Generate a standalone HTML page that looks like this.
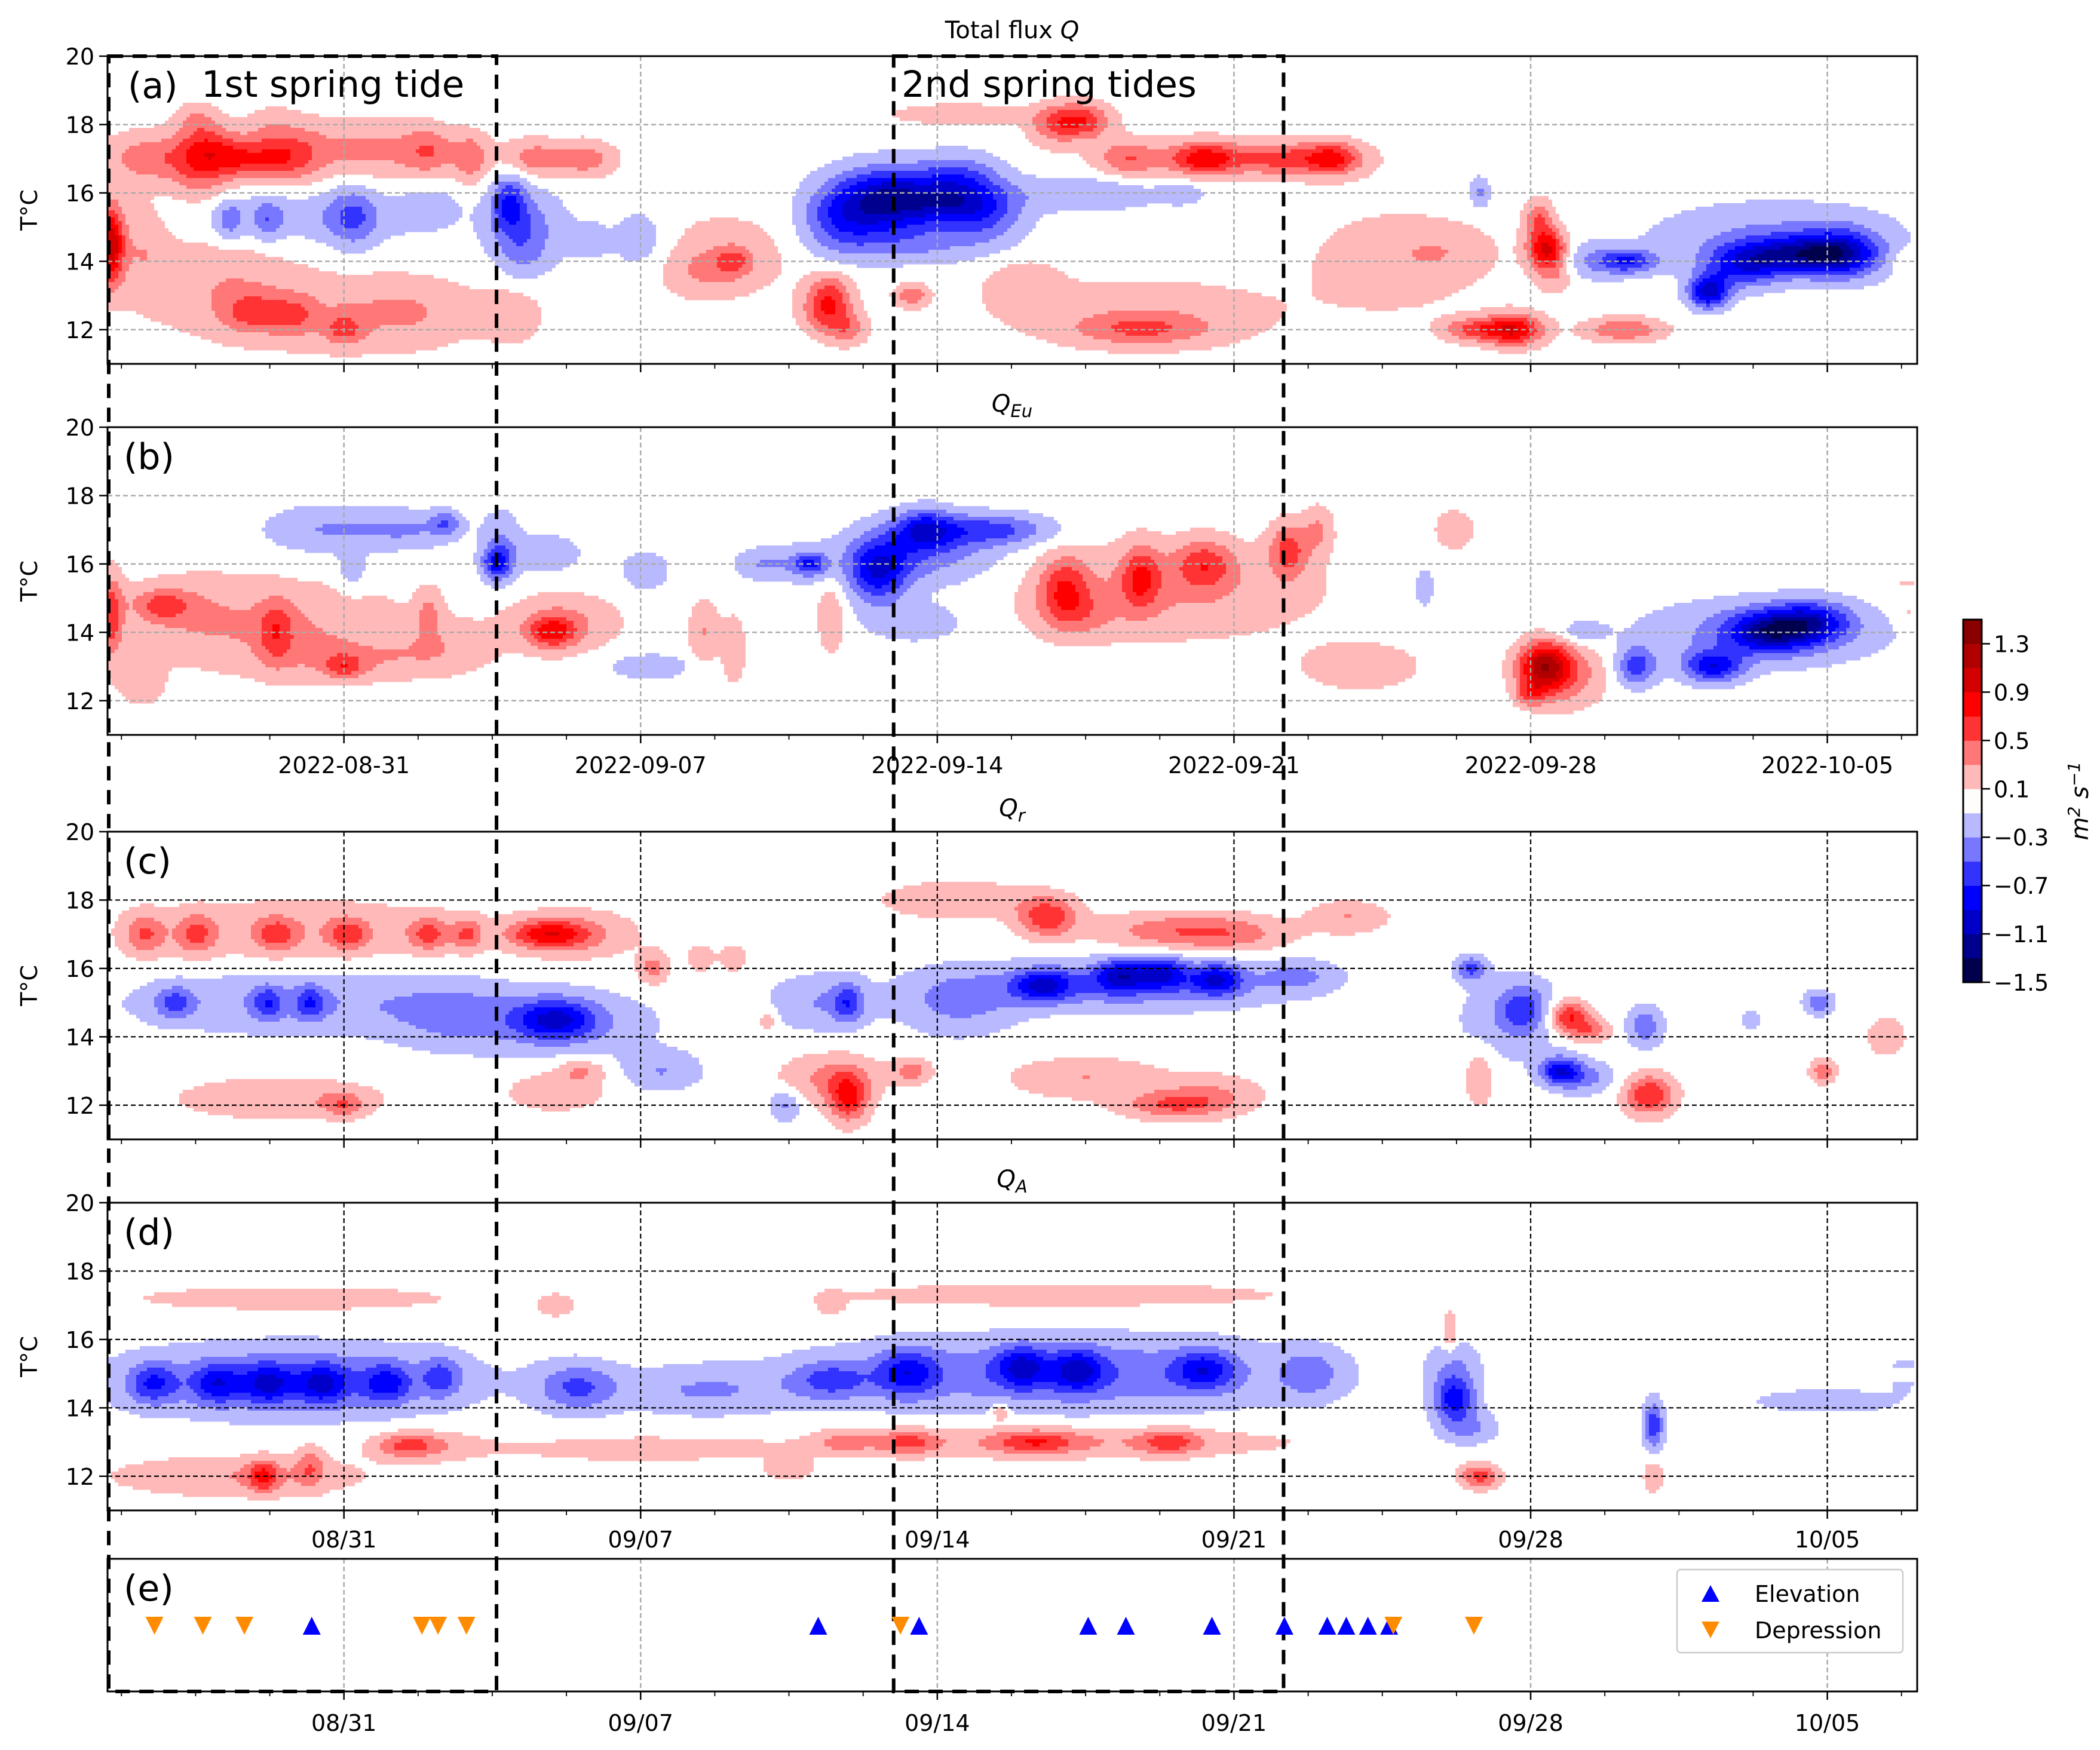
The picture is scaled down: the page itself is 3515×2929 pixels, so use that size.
<!DOCTYPE html>
<html><head><meta charset="utf-8"><style>
html,body{margin:0;padding:0;background:#fff;}
svg{display:block;font-family:"DejaVu Sans","Liberation Sans",sans-serif;}
</style></head><body>
<svg id="fig" xmlns="http://www.w3.org/2000/svg" width="3515" height="2929" viewBox="0 0 3515 2929">
<rect x="0" y="0" width="3515" height="2929" fill="#fff"/>
<g id="fields"></g>
<g id="axes"></g>
</svg>
<script>
// ---- data ----
const panelLetters = ['(a)', '(b)', '(c)', '(d)', '(e)'];
const yTicks = [12, 14, 16, 18, 20];
const weekTickDays = [0, 7, 14, 21, 28, 35];
const longTickLabels = ['2022-08-31','2022-09-07','2022-09-14','2022-09-21','2022-09-28','2022-10-05'];
const shortTickLabels = ['08/31','09/07','09/14','09/21','09/28','10/05'];
const cbBounds = [-1.5,-1.3,-1.1,-0.9,-0.7,-0.5,-0.3,-0.1,0.1,0.3,0.5,0.7,0.9,1.1,1.3,1.5];
const cbTickVals = [1.3,0.9,0.5,0.1,-0.3,-0.7,-1.1,-1.5];
const cbColors = ['#00004c','#00008e','#0000c8','#0000ff','#3333ff','#7777ff','#b9b9ff','#fffcfc','#ffb9b9','#ff7777','#ff3333','#ff0000','#d40000','#b00000','#8a0000'];
const springTideStart = [-5.55, 12.97];
const springTideEnd = [3.6, 22.17];
const elevationDays = [-0.76, 11.19, 13.57, 17.56, 18.45, 20.48, 22.19, 23.2, 23.65, 24.16, 24.66];
const depressionDays = [-4.47, -3.33, -2.35, 1.84, 2.22, 2.89, 13.13, 24.76, 26.66];
// blobs: [day since 08/31, temperature, value, day-spread, temp-spread]
const blobsQ = [
[-4.6,17,0.35,0.9,0.6],[-3.4,16.8,0.4,0.6,0.9],[-3.2,17.3,0.3,0.5,0.7],[-2.5,17,0.45,0.5,0.5],[-1.6,17,0.5,0.55,0.55],[-0.9,17.2,0.2,0.5,0.8],[0.7,17.3,0.2,1.2,0.8],[2.0,17.2,0.35,0.5,0.6],[3.0,17,0.4,0.35,0.6],[-1,17.2,0.18,3.5,0.7],
[-3.5,18.2,0.2,0.4,0.4],[-1.7,18,0.18,0.5,0.5],
[-4.8,14.5,0.25,0.6,1.2],[-3,13.6,0.22,1.5,1.1],[-2.2,12.5,0.4,0.6,0.5],[-1.2,12.4,0.35,0.5,0.5],[0,12,0.4,0.4,0.4],[-0.5,12.5,0.2,3,1.1],[1.5,12.5,0.2,1.3,0.8],
[-5.5,14.5,1.0,0.25,1.0],
[-2.7,15.2,-0.35,0.3,0.5],[-1.8,15.2,-0.35,0.3,0.5],[-0.7,15.3,-0.22,2.5,0.7],[0.2,15.3,-0.4,0.5,0.8],[2.0,15.7,-0.15,0.6,0.6],
[3.9,15.7,-0.6,0.35,0.7],[4.3,15,-0.35,0.8,1],[4.2,14.2,-0.2,0.5,0.8],
[7,14.6,-0.25,0.6,0.8],[5.8,14.6,-0.2,0.4,0.5],
[8.5,13.7,0.2,0.8,0.6],[9.2,14,0.4,0.35,0.35],[9,14.2,0.2,1.6,1.1],
[4.5,17,0.4,0.6,0.45],[5.7,17,0.4,0.6,0.45],[4,12.5,0.2,0.6,0.8],
[12.8,15.8,-1.0,0.9,0.8],[11.7,15.3,-0.6,0.8,0.9],[14.3,15.7,-0.8,1.0,0.6],[14.5,16.5,-0.45,0.9,0.6],[15.2,15.3,-0.35,0.8,0.7],[17.5,16,-0.3,1.5,0.45],[19.8,16,-0.2,0.5,0.3],[13.5,14.5,-0.3,1.5,0.5],
[14.5,18.3,0.22,1.5,0.3],[17.4,18.1,0.65,0.6,0.45],[16.7,18,0.35,0.5,0.5],
[18.5,17,0.4,0.6,0.45],[20.3,17,0.7,0.7,0.4],[22,17,0.4,0.8,0.4],[23.3,17,0.7,0.6,0.4],[21,17,0.18,3,0.6],
[11.4,12.6,0.65,0.5,0.6],[11.9,12,0.35,0.4,0.4],[11.5,13.2,0.25,0.4,0.5],[13.4,13,0.45,0.35,0.3],
[16,13.3,0.22,0.8,0.7],[18.8,12,0.4,1.4,0.4],[19,12.5,0.22,2.8,0.9],
[24.8,14,0.22,1.8,1.3],[26,14.3,0.15,1,0.6],[26.8,16,-0.35,0.2,0.4],
[28.4,14.3,1.0,0.4,0.5],[28.2,15.2,0.5,0.3,0.5],[28.6,13.5,0.25,0.4,0.4],
[27.6,12,0.9,0.6,0.4],[26.6,12,0.5,0.6,0.3],[30.2,12,0.5,0.8,0.3],
[30.3,14,-0.65,0.6,0.3],[29.3,14,-0.25,0.8,0.5],
[32.2,13.1,-1.0,0.4,0.4],[33,13.8,-0.6,0.8,0.5],[34.2,14.2,-0.8,1.2,0.45],[35.3,14.2,-0.75,0.8,0.6],[33.8,14.7,-0.3,2.5,0.9],
[37,14,0.25,0.4,0.3],[37.2,16,0.2,0.3,0.6]];
const blobsEu = [
[-5.5,14.5,0.6,0.25,1.0],[-4.3,14.8,0.45,0.6,0.4],[-3.5,14.5,0.2,1.2,1],[-1.6,14,0.4,0.35,0.8],[-1.2,14,0.18,1.5,1],[0,13,0.4,0.4,0.3],[0.2,13.2,0.2,1.5,0.5],[2,14.5,0.3,0.25,0.6],[2.3,13.5,0.2,1,0.6],[-4.8,12.5,0.2,0.5,0.6],[-1,14.2,0.13,4,1.4],
[-0.5,17,-0.3,1.2,0.6],[1.5,17,-0.3,1,0.5],[2.4,17.2,-0.4,0.3,0.3],[0.2,15.8,-0.25,0.3,0.5],
[3.6,16,-0.65,0.3,0.4],[3.7,16.5,-0.3,0.4,0.9],[4.8,16.3,-0.25,0.7,0.5],
[4.9,14,0.6,0.5,0.4],[5.2,14.3,0.3,1.1,0.7],[7.2,13,-0.3,0.8,0.3],[7.1,15.8,-0.25,0.5,0.5],
[8.5,14,0.3,0.3,0.8],[9.2,13.5,0.25,0.25,0.9],
[9.9,16,-0.3,0.6,0.4],[11,16,-0.5,0.3,0.25],[11,16,-0.25,0.6,0.5],[11.5,14.5,0.25,0.3,1],
[12.6,15.8,-0.8,0.6,0.8],[13.7,17,-0.7,0.6,0.5],[15.3,17,-0.55,1.2,0.4],[13.7,16.3,-0.4,1.5,0.8],[13.5,14.3,-0.25,1,0.5],
[17,15.3,0.55,0.5,0.8],[18.8,15.6,0.55,0.4,0.8],[20.3,16,0.5,0.6,0.6],[22.3,16.4,0.55,0.4,0.7],[19.5,15.2,0.3,3,1.2],[17.3,14.5,0.25,0.8,0.6],
[23,17,0.3,0.3,0.6],[26.2,17,0.25,0.4,0.5],[24,13,0.25,1.2,0.6],[25.5,15.3,-0.25,0.2,0.5],
[28.3,13,1.0,0.5,0.6],[28.8,12.8,0.45,0.8,0.8],[28,12.2,0.45,0.3,0.3],
[29.2,14,-0.25,0.5,0.3],[30.5,13,-0.6,0.4,0.5],[32.3,13,-0.8,0.6,0.4],[33.6,14,-0.8,0.8,0.5],[34.6,14.3,-0.75,0.8,0.5],[33.5,14,-0.4,2.3,0.8],
[36.9,15,0.25,0.3,0.5]];
const blobsR = [
[-4.7,17,0.45,0.4,0.5],[-3.5,17,0.45,0.4,0.5],[-1.6,17,0.45,0.4,0.4],[0.1,17,0.45,0.4,0.4],[2,17,0.5,0.4,0.4],[2.9,17,0.45,0.3,0.4],[-1,17.1,0.25,3.5,0.8],
[4.8,17,0.65,0.8,0.35],[5.5,17,0.3,1.2,0.6],[7.3,16,0.4,0.3,0.4],[8.4,16.3,0.2,0.3,0.4],[9.2,16.3,0.2,0.3,0.4],
[-4,15,-0.45,0.4,0.4],[-1.8,15,-0.45,0.3,0.4],[-0.8,15,-0.45,0.3,0.4],[-1,15,-0.3,3.5,0.8],[5,14.5,-0.7,0.8,0.5],[5,14.4,-0.3,2,0.8],[2.5,14.6,-0.25,1.2,0.8],
[-1.5,12.2,0.3,2,0.5],[0,12,0.35,0.4,0.3],[5.6,13,0.3,0.5,0.3],[5,12.4,0.25,1,0.5],
[7.5,13,-0.3,0.8,0.5],[10.4,12,-0.35,0.3,0.4],
[11.9,12.2,0.7,0.4,0.6],[11.5,12.8,0.35,1,0.6],[11.9,15,-0.5,0.3,0.5],[11.2,15,-0.3,1,0.7],[10,14.5,0.25,0.2,0.3],
[14.5,18,0.3,1.5,0.45],[16.6,17.5,0.65,0.6,0.5],[19.5,17.1,0.4,1.5,0.45],[21,17,0.3,1.2,0.45],
[16.5,15.5,-0.7,0.6,0.4],[18.3,15.8,-0.7,0.5,0.4],[19.3,15.9,-0.7,0.5,0.4],[20.6,15.7,-0.7,0.5,0.4],[18.5,15.5,-0.45,3,0.6],[14.5,15,-0.35,1.2,0.8],[22.5,15.8,-0.3,0.8,0.4],
[17.5,12.8,0.3,1.5,0.5],[19.5,12,0.45,1,0.35],[20.5,12.3,0.3,1,0.5],[13.4,13,0.4,0.4,0.3],[23.7,17.5,0.3,0.8,0.4],
[26.6,16,-0.55,0.3,0.3],[27.8,14.8,-0.5,0.5,0.6],[28.7,13,-0.8,0.4,0.35],[29.3,12.8,-0.35,0.6,0.4],[27.5,14.5,-0.2,1.2,1.2],
[28.9,14.6,0.75,0.4,0.4],[29.4,14.2,0.45,0.4,0.3],[30.8,12.3,0.7,0.5,0.5],[30.7,14.3,-0.45,0.35,0.5],[26.8,12.8,0.3,0.3,0.7],
[34.8,15,-0.45,0.3,0.3],[34.9,13,0.45,0.25,0.3],[36.4,14,0.25,0.4,0.5],[33.2,14.5,-0.2,0.2,0.3]];
const blobsA = [
[-4.5,14.7,-0.55,0.5,0.5],[-3,14.7,-0.55,0.5,0.5],[-1.8,14.7,-0.6,0.5,0.5],[-0.5,14.7,-0.6,0.5,0.5],[1,14.7,-0.55,0.5,0.5],[2.3,14.9,-0.45,0.4,0.5],[-1.2,14.8,-0.45,3.5,0.9],
[-1.9,12,0.55,0.3,0.4],[-2.5,12,0.3,2.5,0.5],[-0.8,12.3,0.35,0.3,0.5],[1.5,12.9,0.4,0.6,0.3],[2,12.9,0.25,1.2,0.4],[-1.2,17.2,0.25,3.2,0.3],
[5.5,14.6,-0.5,0.8,0.6],[8.5,14.5,-0.3,1.8,0.6],
[13.3,15,-0.6,0.6,0.6],[16,15.2,-0.6,0.5,0.5],[17.3,15.1,-0.6,0.5,0.5],[20.3,15.1,-0.6,0.6,0.5],[17,15,-0.5,4.5,0.9],[11.5,14.8,-0.45,0.8,0.5],[22.8,15,-0.35,0.6,0.6],
[17,17.3,0.25,4.5,0.3],[5,17,0.22,0.4,0.3],[11.5,17,0.2,0.3,0.3],
[13.3,13,0.45,0.6,0.3],[16.3,13,0.45,0.8,0.3],[19.5,13,0.45,0.6,0.3],[17,13,0.3,4.5,0.4],[11.8,13,0.3,0.6,0.3],[15.5,13.9,0.35,0.2,0.25],
[7,12.8,0.25,2.5,0.3],[10.5,12.2,0.2,0.6,0.3],
[26.2,14.2,-0.65,0.4,0.5],[26.2,15,-0.35,0.5,0.8],[26.5,13.4,-0.35,0.6,0.4],[26.8,12,0.6,0.4,0.3],[26.1,16.2,0.35,0.15,0.5],
[30.9,13.5,-0.65,0.2,0.6],[30.9,12,0.3,0.2,0.4],[35,14.2,-0.25,1.5,0.3],[36.8,15,-0.25,0.3,0.4]];
const panelBlobs = [blobsQ, blobsEu, blobsR, blobsA];

// ---- layout ----
const NS = 'http://www.w3.org/2000/svg';
const X0 = 180, X1 = 3209, PH = 515;
const panelTops = [94, 715, 1392, 2013];
const eTop = 2609, eBot = 2831;
const TMIN = 11, TMAX = 20;
const SPREAD = 1.15;
function xOf(d){ return 575.7 + d*70.94; }
function dOf(x){ return (x-575.7)/70.94; }
function yOf(top, t){ return top + (TMAX - t)/(TMAX-TMIN)*PH; }
function tOf(top, y){ return TMAX - (y-top)/PH*(TMAX-TMIN); }
function mk(parent, tag, attrs){ const e=document.createElementNS(NS,tag); for(const k in attrs) e.setAttribute(k,attrs[k]); parent.appendChild(e); return e; }
const fields = document.getElementById('fields');
const axes = document.getElementById('axes');

function levelIndex(v){
  let i = Math.floor((v - cbBounds[0]) / 0.2);
  return Math.max(0, Math.min(cbColors.length-1, i));
}
function fieldVal(blobs, d, t){
  let s = 0;
  for (const b of blobs){
    const a=(d-b[0])/(b[3]*SPREAD), c=(t-b[1])/(b[4]*SPREAD);
    const q=a*a+c*c; if (q<12) s += b[2]*Math.exp(-q);
  }
  return s;
}
const CW = 6, CH = 6;
panelBlobs.forEach((blobs, p) => {
  const top = panelTops[p];
  const g = mk(fields,'g',{});
  
  
  for (let y = top; y < top+PH; y += CH){
    const t = tOf(top, y + CH/2);
    let runStart = X0, runLev = -1;
    for (let x = X0; x <= X1; x += CW){
      const lev = x < X1 ? levelIndex(fieldVal(blobs, dOf(x+CW/2), t)) : -2;
      if (lev !== runLev){
        if (runLev >= 0 && runLev !== 7){
          const r = mk(g,'rect',{x:runStart, y:y, width:Math.min(x,X1)-runStart, height:Math.min(CH, top+PH-y)+0.5, fill:cbColors[runLev]});
          
          
        }
        runStart = x; runLev = lev;
      }
    }
  }
});

function txt(parent, x, y, s, size, anchor, extra){
  const e = mk(parent,'text',Object.assign({x:x,y:y,'font-size':size,'text-anchor':anchor||'start',fill:'#000'},extra||{}));
  e.textContent = s; return e;
}
const TF = 38;
const allTops = panelTops.concat([eTop]);
allTops.forEach((top, p) => {
  const bot = p < 4 ? top+PH : eBot;
  const g = mk(axes,'g',{});
  
  
  const gridCol = (p===2||p===3) ? '#000' : '#aaa';
  const gridW = (p===2||p===3) ? 2.2 : 2.5;
  weekTickDays.forEach((d,i) => {
    const gl = mk(g,'line',{x1:xOf(d),x2:xOf(d),y1:top,y2:bot,stroke:gridCol,'stroke-width':gridW,'stroke-dasharray':'8 5'});
    
    
    mk(g,'line',{x1:xOf(d),x2:xOf(d),y1:bot,y2:bot+14,stroke:'#000','stroke-width':2.5});
  });
  for (let d = -5.25; d < 37.2; d += 1.75){
    if (Math.abs(d/7 - Math.round(d/7)) < 1e-6) continue;
    mk(g,'line',{x1:xOf(d),x2:xOf(d),y1:bot,y2:bot+8,stroke:'#000','stroke-width':1.8});
  }
  if (p < 4){
    yTicks.forEach(t => {
      if (t < 20){
        const gl = mk(g,'line',{x1:X0,x2:X1,y1:yOf(top,t),y2:yOf(top,t),stroke:gridCol,'stroke-width':gridW,'stroke-dasharray':'8 5'});
        
        
      }
      mk(g,'line',{x1:X0-14,x2:X0,y1:yOf(top,t),y2:yOf(top,t),stroke:'#000','stroke-width':2.5});
      const tl = txt(g, X0-22, yOf(top,t)+14, String(t), TF, 'end');
      
      
    });
    const yl = txt(g, 0, 0, 'T°C', TF, 'middle', {transform:`translate(62 ${top+PH/2}) rotate(-90)`});
    
    
  }
  const fr = mk(g,'rect',{x:X0,y:top,width:X1-X0,height:bot-top,fill:'none',stroke:'#000','stroke-width':3});
  
  
  const lab = txt(g, p===0?214:207, top+70, panelLetters[p], 60, 'start');
  
  
  let labels = null, ly = 0;
  if (p===1){ labels = longTickLabels; ly = bot+64; }
  if (p===3){ labels = shortTickLabels; ly = bot+62; }
  if (p===4){ labels = shortTickLabels; ly = bot+66; }
  if (labels){
    weekTickDays.forEach((d,i) => {
      const tl = txt(g, xOf(d), ly, labels[i], TF, 'middle');
      
      
    });
  }
});
const tA = txt(axes, 1694, 64, 'Total flux ', 40, 'middle');


const ts = mk(tA,'tspan',{'font-style':'italic'}); ts.textContent='Q';
[1,2,3].forEach((pi,k) => {
  const top = panelTops[pi];
  const t = txt(axes, 1694, top-26, '', 40, 'middle', {'font-style':'italic'});
  
  
  const a = mk(t,'tspan',{}); a.textContent='Q';
  const b = mk(t,'tspan',{'font-size':29,dy:9}); b.textContent = ['Eu','r','A'][k];
});
const st1 = txt(axes, 337, 162, '1st spring tide', 61, 'start');


const st2 = txt(axes, 1509, 162, '2nd spring tides', 61, 'start');


springTideStart.forEach((d0,i) => {
  const xa = xOf(d0), xb = xOf(springTideEnd[i]);
  const r = mk(axes,'rect',{x:xa,y:94,width:xb-xa,height:eBot-94,fill:'none',stroke:'#000','stroke-width':6,'stroke-dasharray':'24 16'});
  
  
});
function tri(x, y, up, col){
  const s = 15;
  const pts = up ? `${x-s},${y+s} ${x+s},${y+s} ${x},${y-s}` : `${x-s},${y-s} ${x+s},${y-s} ${x},${y+s}`;
  return mk(axes,'polygon',{points:pts,fill:col});
}
const my = 2721;
elevationDays.forEach(d => {
  const m = tri(xOf(d), my, true, '#0000ff');
  
  
});
depressionDays.forEach(d => {
  const m = tri(xOf(d), my, false, '#ff8c00');
  
  
});
const lg = mk(axes,'g',{});


mk(lg,'rect',{x:2807,y:2627,width:378,height:139,rx:6,fill:'#fff',stroke:'#ccc','stroke-width':2.5});
const le1 = mk(lg,'polygon',{points:'2848,2681 2878,2681 2863,2653',fill:'#0000ff'});


txt(lg, 2937, 2681, 'Elevation', TF, 'start');
const le2 = mk(lg,'polygon',{points:'2848,2714 2878,2714 2863,2742',fill:'#ff8c00'});


txt(lg, 2937, 2742, 'Depression', TF, 'start');
const cb = mk(axes,'g',{});


const CBX = 3286, CBW = 31, CBT = 1037, CBB = 1644;
function cbY(v){ return CBB - (v - cbBounds[0])/(cbBounds[cbBounds.length-1]-cbBounds[0])*(CBB-CBT); }
cbColors.forEach((c,i) => {
  const r = mk(cb,'rect',{x:CBX,y:cbY(cbBounds[i+1]),width:CBW,height:cbY(cbBounds[i])-cbY(cbBounds[i+1])+0.5,fill:c});
  
  
});
mk(cb,'rect',{x:CBX,y:CBT,width:CBW,height:CBB-CBT,fill:'none',stroke:'#000','stroke-width':3});
cbTickVals.forEach(v => {
  mk(cb,'line',{x1:CBX+CBW,x2:CBX+CBW+14,y1:cbY(v),y2:cbY(v),stroke:'#000','stroke-width':2.5});
  const lbl = v < 0 ? '\u2212' + Math.abs(v).toFixed(1) : v.toFixed(1);
  const t = txt(cb, CBX+CBW+20, cbY(v)+14, lbl, TF, 'start');
  
  
});
const cbl = txt(cb, 0, 0, '', 40, 'middle', {transform:`translate(3495 ${(CBT+CBB)/2}) rotate(-90)`, 'font-style':'italic'});


const c1 = mk(cbl,'tspan',{}); c1.textContent='m';
const c2 = mk(cbl,'tspan',{'font-size':28,dy:-14}); c2.textContent='2';
const c3 = mk(cbl,'tspan',{dy:14}); c3.textContent=' s';
const c4 = mk(cbl,'tspan',{'font-size':28,dy:-14}); c4.textContent='\u22121';
</script>
</body></html>
